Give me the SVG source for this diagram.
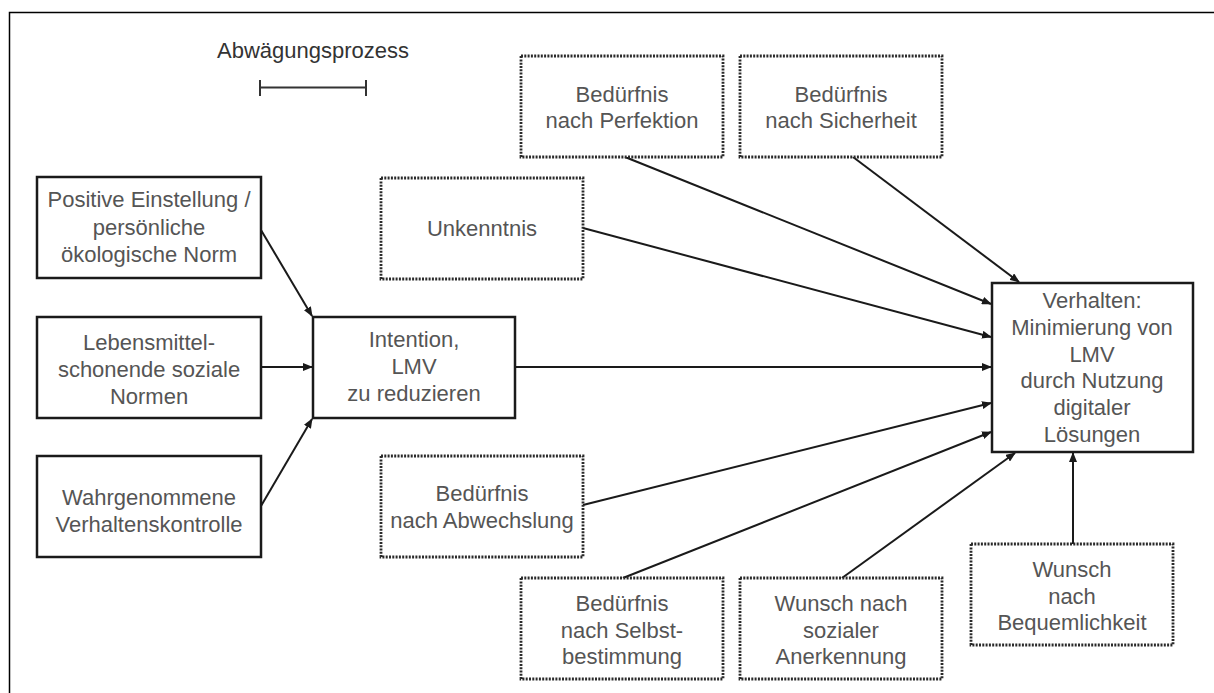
<svg xmlns="http://www.w3.org/2000/svg" width="1214" height="693" viewBox="0 0 1214 693">
<defs>
<style>
.solid{fill:#fff;stroke:#1a1a1a;stroke-width:2.5}
.dot{fill:#fff;stroke:#2a2a2a;stroke-width:2.8;stroke-dasharray:2 1.3}
.t{font-family:"Liberation Sans",Arial,sans-serif;font-size:22px;fill:#555;text-anchor:middle}
.lg{font-family:"Liberation Sans",Arial,sans-serif;font-size:22px;fill:#333;text-anchor:middle}
.con{stroke:#1a1a1a;stroke-width:2;fill:none;marker-end:url(#ah)}
</style>
<marker id="ah" markerUnits="userSpaceOnUse" markerWidth="10" markerHeight="8" refX="9" refY="4" orient="auto">
<path d="M0,0 L10,4 L0,8 Z" fill="#1a1a1a"/>
</marker>
</defs>
<rect width="1214" height="693" fill="#fff"/>
<path d="M9.5,693 V12.5 H1214" fill="none" stroke="#000" stroke-width="1.5"/>
<g id="legend">
<text class="lg" x="313" y="58">Abwägungsprozess</text>
<path d="M260,87.5 H366 M260,80 V96 M366,80 V96" stroke="#333" stroke-width="2" fill="none"/>
</g>
<g id="connectors">
<line class="con" x1="261" y1="230" x2="312" y2="316"/>
<line class="con" x1="261" y1="367" x2="312" y2="367"/>
<line class="con" x1="261" y1="506" x2="312" y2="419"/>
<line class="con" x1="515" y1="367" x2="991" y2="367"/>
<line class="con" x1="625" y1="157" x2="991" y2="304"/>
<line class="con" x1="853" y1="157" x2="1019" y2="282"/>
<line class="con" x1="583" y1="228" x2="991" y2="337"/>
<line class="con" x1="583" y1="505" x2="991" y2="403"/>
<line class="con" x1="623" y1="578" x2="991" y2="432"/>
<line class="con" x1="842" y1="578" x2="1015" y2="453"/>
<line class="con" x1="1073" y1="544" x2="1073" y2="453"/>
</g>
<g id="n_positive">
<rect class="solid" x="37" y="177" width="224" height="101"/>
<text class="t" x="149" y="207">Positive Einstellung /</text>
<text class="t" x="149" y="235">persönliche</text>
<text class="t" x="149" y="262">ökologische Norm</text>
</g>
<g id="n_lebensmittel">
<rect class="solid" x="37" y="317" width="224" height="101"/>
<text class="t" x="149" y="350">Lebensmittel-</text>
<text class="t" x="149" y="377">schonende soziale</text>
<text class="t" x="149" y="404">Normen</text>
</g>
<g id="n_wahrgenommen">
<rect class="solid" x="37" y="456" width="224" height="101"/>
<text class="t" x="149" y="505">Wahrgenommene</text>
<text class="t" x="149" y="532">Verhaltenskontrolle</text>
</g>
<g id="n_intention">
<rect class="solid" x="313" y="317" width="202" height="101"/>
<text class="t" x="414" y="347">Intention,</text>
<text class="t" x="414" y="374">LMV</text>
<text class="t" x="414" y="401">zu reduzieren</text>
</g>
<g id="n_verhalten">
<rect class="solid" x="992" y="283" width="201" height="169"/>
<text class="t" x="1092" y="308">Verhalten:</text>
<text class="t" x="1092" y="335">Minimierung von</text>
<text class="t" x="1092" y="362">LMV</text>
<text class="t" x="1092" y="388">durch Nutzung</text>
<text class="t" x="1092" y="415">digitaler</text>
<text class="t" x="1092" y="442">Lösungen</text>
</g>
<g id="n_perfektion">
<rect class="dot" x="521" y="56" width="202" height="101"/>
<text class="t" x="622" y="102">Bedürfnis</text>
<text class="t" x="622" y="128">nach Perfektion</text>
</g>
<g id="n_sicherheit">
<rect class="dot" x="740" y="56" width="202" height="101"/>
<text class="t" x="841" y="102">Bedürfnis</text>
<text class="t" x="841" y="128">nach Sicherheit</text>
</g>
<g id="n_unkenntnis">
<rect class="dot" x="381" y="178" width="202" height="101"/>
<text class="t" x="482" y="236">Unkenntnis</text>
</g>
<g id="n_abwechslung">
<rect class="dot" x="381" y="456" width="202" height="101"/>
<text class="t" x="482" y="501">Bedürfnis</text>
<text class="t" x="482" y="528">nach Abwechslung</text>
</g>
<g id="n_selbstbestimmung">
<rect class="dot" x="521" y="578" width="202" height="101"/>
<text class="t" x="622" y="611">Bedürfnis</text>
<text class="t" x="622" y="638">nach Selbst-</text>
<text class="t" x="622" y="664">bestimmung</text>
</g>
<g id="n_anerkennung">
<rect class="dot" x="740" y="578" width="202" height="101"/>
<text class="t" x="841" y="611">Wunsch nach</text>
<text class="t" x="841" y="638">sozialer</text>
<text class="t" x="841" y="664">Anerkennung</text>
</g>
<g id="n_bequemlichkeit">
<rect class="dot" x="971" y="544" width="202" height="101"/>
<text class="t" x="1072" y="577">Wunsch</text>
<text class="t" x="1072" y="604">nach</text>
<text class="t" x="1072" y="630">Bequemlichkeit</text>
</g>
</svg>
